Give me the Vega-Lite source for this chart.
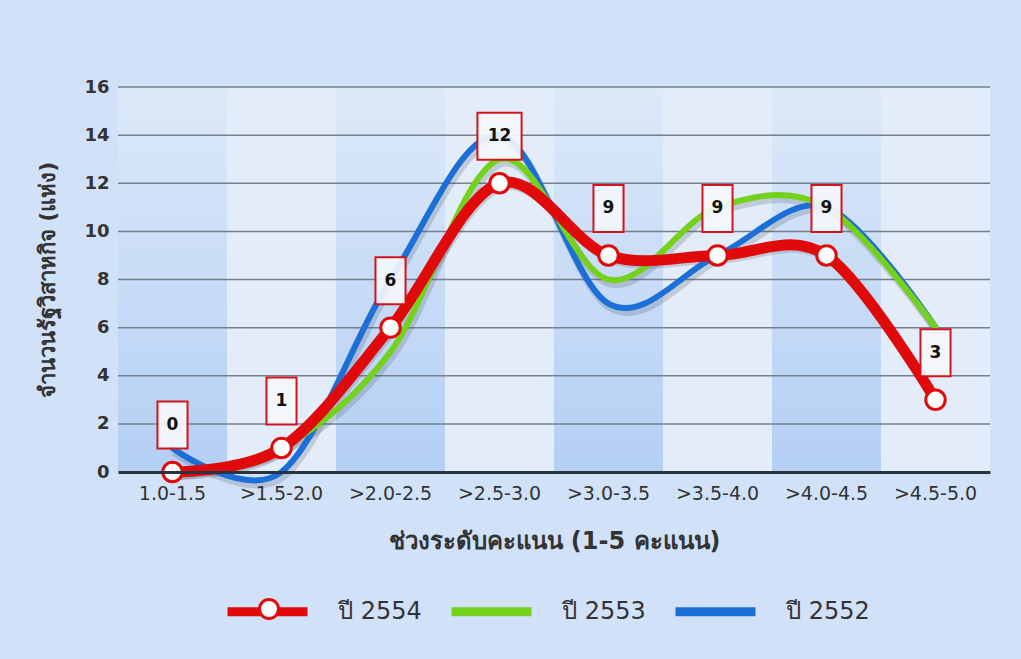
{
  "$schema": "https://vega.github.io/schema/vega-lite/v6.json",
  "width": 872,
  "height": 385,
  "autosize": {"type": "none"},
  "padding": {"left": 118, "top": 87, "right": 31, "bottom": 187},
  "background": "#d1e2f8",
  "config": {
    "view": {"stroke": null},
    "font": "DejaVu Sans",
    "axis": {"labelFont": "DejaVu Sans", "titleFont": "DejaVu Sans", "labelColor": "#333333", "titleColor": "#333333"},
    "legend": {"labelFont": "DejaVu Sans"}
  },
  "data": {
    "values": [
      {"cat": "1.0-1.5", "year": "ปี 2554", "n": 0},
      {"cat": ">1.5-2.0", "year": "ปี 2554", "n": 1},
      {"cat": ">2.0-2.5", "year": "ปี 2554", "n": 6},
      {"cat": ">2.5-3.0", "year": "ปี 2554", "n": 12},
      {"cat": ">3.0-3.5", "year": "ปี 2554", "n": 9},
      {"cat": ">3.5-4.0", "year": "ปี 2554", "n": 9},
      {"cat": ">4.0-4.5", "year": "ปี 2554", "n": 9},
      {"cat": ">4.5-5.0", "year": "ปี 2554", "n": 3},
      {"cat": "1.0-1.5", "year": "ปี 2553", "n": 0},
      {"cat": ">1.5-2.0", "year": "ปี 2553", "n": 1},
      {"cat": ">2.0-2.5", "year": "ปี 2553", "n": 5},
      {"cat": ">2.5-3.0", "year": "ปี 2553", "n": 13},
      {"cat": ">3.0-3.5", "year": "ปี 2553", "n": 8},
      {"cat": ">3.5-4.0", "year": "ปี 2553", "n": 11},
      {"cat": ">4.0-4.5", "year": "ปี 2553", "n": 11},
      {"cat": ">4.5-5.0", "year": "ปี 2553", "n": 6},
      {"cat": "1.0-1.5", "year": "ปี 2552", "n": 1},
      {"cat": ">1.5-2.0", "year": "ปี 2552", "n": 0},
      {"cat": ">2.0-2.5", "year": "ปี 2552", "n": 8},
      {"cat": ">2.5-3.0", "year": "ปี 2552", "n": 14},
      {"cat": ">3.0-3.5", "year": "ปี 2552", "n": 7},
      {"cat": ">3.5-4.0", "year": "ปี 2552", "n": 9},
      {"cat": ">4.0-4.5", "year": "ปี 2552", "n": 11},
      {"cat": ">4.5-5.0", "year": "ปี 2552", "n": 6}
    ]
  },
  "layer": [
    {
      "data": {
        "values": [
          {"cat": "1.0-1.5", "shade": "dark"},
          {"cat": ">2.0-2.5", "shade": "dark"},
          {"cat": ">3.0-3.5", "shade": "dark"},
          {"cat": ">4.0-4.5", "shade": "dark"}
        ]
      },
      "mark": {
        "type": "rect",
        "color": {
          "gradient": "linear", "x1": 0, "y1": 0, "x2": 0, "y2": 1,
          "stops": [{"offset": 0, "color": "#dde9f9"}, {"offset": 1, "color": "#b3cff4"}]
        }
      },
      "encoding": {
        "x": {
          "field": "cat", "type": "nominal",
          "scale": {
            "domain": ["1.0-1.5", ">1.5-2.0", ">2.0-2.5", ">2.5-3.0", ">3.0-3.5", ">3.5-4.0", ">4.0-4.5", ">4.5-5.0"],
            "paddingInner": 0, "paddingOuter": 0
          },
          "axis": {
            "title": "ช่วงระดับคะแนน (1-5 คะแนน)",
            "labelAngle": 0, "labelFontSize": 19, "labelPadding": 12,
            "titleFontSize": 24, "titleFontWeight": "bold", "titlePadding": 26,
            "ticks": false, "domainColor": "#2a3440", "domainWidth": 3, "grid": false
          }
        },
        "y": {
          "datum": 0, "type": "quantitative",
          "scale": {"domain": [0, 16]},
          "axis": {
            "title": "จำนวนรัฐวิสาหกิจ (แห่ง)",
            "values": [0, 2, 4, 6, 8, 10, 12, 14, 16],
            "labelFontSize": 18, "labelFontWeight": "bold", "labelPadding": 9,
            "titleFontSize": 22, "titleFontWeight": "bold", "titlePadding": 24,
            "ticks": false, "domain": false, "grid": false
          }
        },
        "y2": {"datum": 16}
      }
    },
    {
      "data": {
        "values": [
          {"cat": ">1.5-2.0", "shade": "light"},
          {"cat": ">2.5-3.0", "shade": "light"},
          {"cat": ">3.5-4.0", "shade": "light"},
          {"cat": ">4.5-5.0", "shade": "light"}
        ]
      },
      "mark": {"type": "rect", "color": "#e3edfa"},
      "encoding": {
        "x": {"field": "cat", "type": "nominal"},
        "y": {"datum": 0, "type": "quantitative"},
        "y2": {"datum": 16}
      }
    },
    {
      "data": {"values": [{"g": 2}, {"g": 4}, {"g": 6}, {"g": 8}, {"g": 10}, {"g": 12}, {"g": 14}, {"g": 16}]},
      "mark": {"type": "rule", "color": "#76808c", "strokeWidth": 1.5},
      "encoding": {
        "y": {"field": "g", "type": "quantitative"}
      }
    },
    {
      "mark": {"type": "line", "interpolate": "cardinal", "strokeWidth": 8, "color": "#3a4450", "opacity": 0.2, "yOffset": 4, "xOffset": 2},
      "encoding": {
        "x": {"field": "cat", "type": "nominal"},
        "y": {"field": "n", "type": "quantitative"},
        "detail": {"field": "year", "type": "nominal"}
      }
    },
    {
      "transform": [{"filter": "datum.year == 'ปี 2552'"}],
      "mark": {"type": "line", "interpolate": "cardinal", "strokeWidth": 6, "strokeCap": "round"},
      "encoding": {
        "x": {"field": "cat", "type": "nominal"},
        "y": {"field": "n", "type": "quantitative"},
        "color": {
          "field": "year", "type": "nominal",
          "scale": {"domain": ["ปี 2554", "ปี 2553", "ปี 2552"], "range": ["#e00a0a", "#74d11c", "#1c6fd6"]},
          "legend": {
            "title": null, "orient": "none", "direction": "horizontal",
            "legendX": 105, "legendY": 480,
            "symbolType": "stroke", "symbolSize": 6400, "symbolStrokeWidth": 9,
            "labelFontSize": 24, "labelColor": "#333333", "labelOffset": 26,
            "columnPadding": 11
          }
        }
      }
    },
    {
      "transform": [{"filter": "datum.year == 'ปี 2553'"}],
      "mark": {"type": "line", "interpolate": "cardinal", "strokeWidth": 6, "strokeCap": "round"},
      "encoding": {
        "x": {"field": "cat", "type": "nominal"},
        "y": {"field": "n", "type": "quantitative"},
        "color": {"field": "year", "type": "nominal"}
      }
    },
    {
      "transform": [{"filter": "datum.year == 'ปี 2554'"}],
      "mark": {"type": "line", "interpolate": "cardinal", "strokeWidth": 11, "strokeCap": "round"},
      "encoding": {
        "x": {"field": "cat", "type": "nominal"},
        "y": {"field": "n", "type": "quantitative"},
        "color": {"field": "year", "type": "nominal"}
      }
    },
    {
      "transform": [{"filter": "datum.year == 'ปี 2554'"}],
      "mark": {"type": "point", "filled": true, "fill": "#ffffff", "strokeWidth": 3, "size": 380, "opacity": 1},
      "encoding": {
        "x": {"field": "cat", "type": "nominal"},
        "y": {"field": "n", "type": "quantitative"},
        "stroke": {
          "field": "year", "type": "nominal",
          "scale": {"domain": ["ปี 2554"], "range": ["#e00a0a"]},
          "legend": {
            "title": null, "orient": "none", "legendX": 140, "legendY": 511,
            "symbolType": "circle", "symbolSize": 360, "symbolFillColor": "#ffffff", "symbolStrokeWidth": 3,
            "labelOpacity": 0, "labelFontSize": 1
          }
        }
      }
    },
    {
      "transform": [{"filter": "datum.year == 'ปี 2554'"}],
      "mark": {"type": "point", "filled": true, "fill": "#f4f7fc", "fillOpacity": 0.92, "stroke": "#d4141c", "strokeWidth": 2, "strokeOpacity": 1, "size": 2209, "yOffset": -47},
      "encoding": {
        "x": {"field": "cat", "type": "nominal"},
        "y": {"field": "n", "type": "quantitative"},
        "shape": {
          "condition": {"test": "datum.n >= 10", "value": "M-0.94,-1L0.94,-1L0.94,1L-0.94,1Z"},
          "value": "M-0.64,-1L0.64,-1L0.64,1L-0.64,1Z"
        }
      }
    },
    {
      "transform": [{"filter": "datum.year == 'ปี 2554'"}],
      "mark": {"type": "text", "font": "DejaVu Sans", "fontSize": 17, "fontWeight": "bold", "color": "#111111", "baseline": "middle", "yOffset": -47},
      "encoding": {
        "x": {"field": "cat", "type": "nominal"},
        "y": {"field": "n", "type": "quantitative"},
        "text": {"field": "n", "type": "quantitative"}
      }
    }
  ]
}
